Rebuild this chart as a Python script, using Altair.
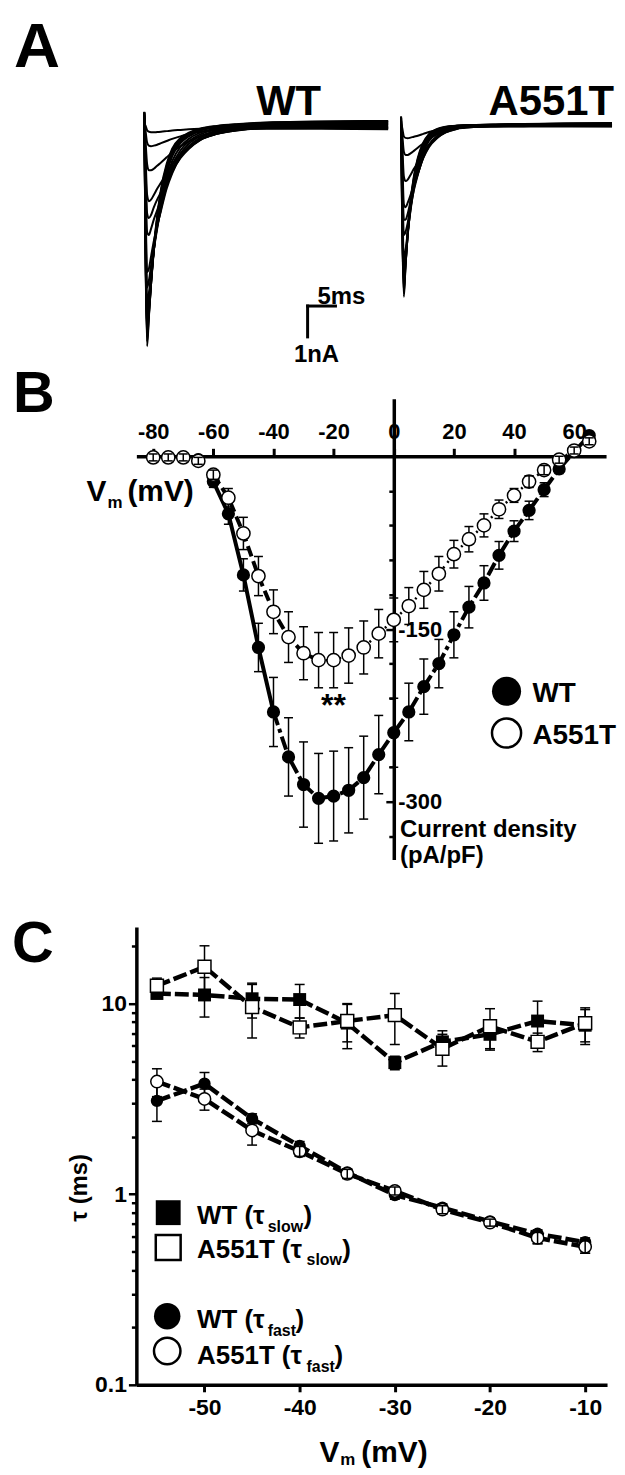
import altair as alt
import pandas as pd

FONT = "Liberation Sans"
BLACK = "#000000"

# ---------------- Panel A: current traces (time in ms, current in nA) ----------------
T_WT = [0, 0.2, 0.5, 0.8, 1.2, 1.7, 2.3, 3, 4, 5, 6.5, 8, 10, 13, 17, 22, 30, 43.75]
WT_TRACES = [
    [0.4, -4.0, -7.2, -6.3, -5.2, -4.0, -3.0, -2.1, -1.3, -0.8, -0.45, -0.28, -0.15, -0.06, 0.0, 0.05, 0.08, 0.1],
    [0.39, -3.9, -7.05, -6.25, -5.2, -4.05, -3.05, -2.17, -1.37, -0.86, -0.49, -0.31, -0.17, -0.07, -0.01, 0.04, 0.07, 0.09],
    [0.38, -3.8, -6.9, -6.2, -5.2, -4.1, -3.1, -2.25, -1.45, -0.92, -0.53, -0.34, -0.19, -0.08, -0.02, 0.03, 0.06, 0.08],
    [0.36, -3.65, -6.75, -6.1, -5.15, -4.1, -3.15, -2.32, -1.52, -0.98, -0.57, -0.37, -0.2, -0.09, -0.02, 0.02, 0.05, 0.06],
    [0.35, -3.5, -6.6, -6.0, -5.1, -4.1, -3.2, -2.4, -1.6, -1.05, -0.62, -0.4, -0.22, -0.1, -0.03, 0.02, 0.04, 0.05],
    [0.32, -3.1, -6.2, -5.75, -5.0, -4.1, -3.3, -2.55, -1.75, -1.2, -0.73, -0.48, -0.28, -0.14, -0.05, 0.0, 0.02, 0.02],
    [0.3, -2.8, -5.8, -5.5, -4.9, -4.1, -3.4, -2.7, -1.9, -1.35, -0.85, -0.56, -0.34, -0.18, -0.08, -0.02, 0.0, 0.0],
    [0.28, -2.5, -5.3, -5.1, -4.6, -4.0, -3.35, -2.75, -2.0, -1.48, -0.95, -0.64, -0.4, -0.22, -0.1, -0.04, -0.02, -0.02],
    [0.25, -2.2, -4.8, -4.7, -4.3, -3.8, -3.3, -2.8, -2.1, -1.6, -1.05, -0.72, -0.45, -0.26, -0.13, -0.06, -0.04, -0.05],
    [0.2, -1.5, -3.5, -3.6, -3.4, -3.1, -2.8, -2.45, -1.95, -1.55, -1.1, -0.8, -0.52, -0.32, -0.18, -0.1, -0.08, -0.08],
    [0.18, -1.2, -2.9, -3.05, -2.95, -2.7, -2.45, -2.2, -1.8, -1.45, -1.05, -0.78, -0.52, -0.32, -0.19, -0.12, -0.1, -0.1],
    [0.15, -0.9, -2.3, -2.5, -2.45, -2.3, -2.1, -1.9, -1.6, -1.3, -0.98, -0.74, -0.5, -0.32, -0.2, -0.13, -0.11, -0.12],
    [0.1, -0.5, -1.3, -1.5, -1.5, -1.45, -1.35, -1.25, -1.08, -0.92, -0.72, -0.56, -0.4, -0.27, -0.18, -0.14, -0.13, -0.15],
    [0.05, -0.2, -0.6, -0.7, -0.72, -0.7, -0.67, -0.62, -0.55, -0.48, -0.4, -0.32, -0.25, -0.19, -0.16, -0.15, -0.15, -0.17],
    [0.0, -0.05, -0.2, -0.25, -0.27, -0.27, -0.26, -0.25, -0.23, -0.21, -0.19, -0.17, -0.15, -0.13, -0.12, -0.12, -0.12, -0.13],
]
T_MUT = [0, 0.2, 0.5, 0.8, 1.2, 1.7, 2.3, 3, 4, 5, 6.5, 8, 10, 13, 17, 22, 30, 37.86]
MUT_TRACES = [
    [0.25, -3.2, -5.6, -4.6, -3.5, -2.5, -1.7, -1.1, -0.6, -0.33, -0.16, -0.09, -0.05, -0.03, -0.02, 0.0, 0.02, 0.03],
    [0.23, -3.1, -5.48, -4.58, -3.52, -2.55, -1.75, -1.15, -0.64, -0.35, -0.17, -0.095, -0.055, -0.032, -0.02, -0.003, 0.015, 0.025],
    [0.22, -3.0, -5.35, -4.55, -3.55, -2.6, -1.8, -1.2, -0.68, -0.38, -0.19, -0.1, -0.06, -0.035, -0.02, -0.005, 0.01, 0.02],
    [0.2, -2.7, -5.1, -4.5, -3.6, -2.7, -1.9, -1.3, -0.75, -0.43, -0.22, -0.12, -0.07, -0.04, -0.02, -0.01, 0.0, 0.01],
    [0.2, -2.4, -4.75, -4.3, -3.55, -2.75, -2.0, -1.4, -0.82, -0.49, -0.26, -0.14, -0.08, -0.045, -0.025, -0.015, -0.005, 0.005],
    [0.2, -2.1, -4.4, -4.1, -3.5, -2.8, -2.1, -1.5, -0.9, -0.55, -0.3, -0.17, -0.09, -0.05, -0.03, -0.02, -0.01, 0.0],
    [0.15, -1.5, -3.6, -3.5, -3.2, -2.7, -2.15, -1.65, -1.05, -0.68, -0.38, -0.22, -0.12, -0.07, -0.04, -0.03, -0.02, -0.02],
    [0.12, -1.25, -3.1, -3.1, -2.9, -2.5, -2.05, -1.62, -1.08, -0.72, -0.42, -0.25, -0.14, -0.08, -0.05, -0.035, -0.025, -0.03],
    [0.1, -1.0, -2.6, -2.7, -2.55, -2.3, -1.95, -1.6, -1.1, -0.75, -0.45, -0.27, -0.15, -0.09, -0.06, -0.04, -0.03, -0.04],
    [0.1, -0.6, -1.7, -1.85, -1.8, -1.65, -1.45, -1.25, -0.92, -0.67, -0.43, -0.27, -0.16, -0.1, -0.07, -0.05, -0.05, -0.05],
    [0.05, -0.3, -0.9, -1.0, -1.0, -0.95, -0.87, -0.77, -0.62, -0.48, -0.33, -0.22, -0.14, -0.1, -0.08, -0.07, -0.06, -0.07],
    [0.0, -0.12, -0.4, -0.45, -0.46, -0.44, -0.41, -0.38, -0.32, -0.26, -0.19, -0.14, -0.11, -0.09, -0.08, -0.08, -0.08, -0.08],
]
SCALE_BAR = {"t0": 29.3, "i0": -5.9, "dt": 5, "di": 1}

# ---------------- Panel B: I-V relationship ----------------
V_B = list(range(-80, 70, 5))
WT_B = [-1, -1, -1, -3, -22, -50, -103, -166, -222, -261, -285, -297, -295, -290, -279,
        -259, -240, -222, -200, -180, -155, -131, -110, -86, -65, -47, -29, -11, 4, 18]
WT_B_ERR = [2, 2, 2, 3, 5, 9, 14, 21, 30, 34, 37, 39, 39, 37, 36,
            34, 30, 25, 24, 21, 20, 18, 15, 12, 9, 8, 6, 4, 3, 3]
MUT_B = [-1, -1, -1, -4, -16, -36, -67, -104, -135, -157, -171, -177, -177, -173, -166,
         -154, -142, -130, -116, -102, -85, -72, -60, -46, -34, -22, -12, -3, 5, 13]
MUT_B_ERR = [3, 3, 3, 3, 4, 8, 14, 17, 19, 22, 23, 24, 24, 24, 23,
             21, 19, 16, 16, 15, 12, 11, 10, 8, 6, 5, 4, 3, 3, 3]

# ---------------- Panel C: inactivation time constants ----------------
V_C = [-55, -50, -45, -40, -35, -30, -25, -20, -15, -10]
WT_SLOW = [11.3, 11.1, 10.6, 10.5, 7.9, 4.9, 6.3, 6.9, 8.1, 7.7]
WT_SLOW_ERR = [0.5, 2.6, 2.2, 2.1, 2.1, 0.4, 0.9, 1.2, 2.2, 1.6]
MUT_SLOW = [12.4, 15.6, 9.6, 7.5, 8.1, 8.7, 5.8, 7.6, 6.3, 7.9]
MUT_SLOW_ERR = [1.2, 4.5, 3.0, 0.9, 1.8, 2.6, 1.1, 1.8, 0.7, 1.6]
WT_FAST = [3.09, 3.8, 2.49, 1.79, 1.30, 0.99, 0.85, 0.72, 0.62, 0.56]
WT_FAST_ERR = [0.68, 0.55, 0.15, 0.1, 0.06, 0.05, 0.04, 0.03, 0.03, 0.03]
MUT_FAST = [3.9, 3.16, 2.16, 1.68, 1.28, 1.04, 0.83, 0.71, 0.59, 0.53]
MUT_FAST_ERR = [0.65, 0.4, 0.35, 0.1, 0.07, 0.05, 0.04, 0.03, 0.04, 0.04]


# ---------------- helpers ----------------
def txt(s, x, y, size, align="left", baseline="alphabetic", angle=None):
    kw = dict(font=FONT, fontSize=size, fontWeight="bold", color=BLACK,
              align=align, baseline=baseline)
    if angle:
        kw["angle"] = angle
    return alt.Chart(pd.DataFrame({"s": [s]})).mark_text(**kw).encode(
        text="s:N", x=alt.value(x), y=alt.value(y))


def sym(x, y, shape, size, filled_black, sw=2.5):
    if filled_black:
        m = alt.Chart(pd.DataFrame({"k": [0]})).mark_point(
            shape=shape, size=size, filled=True, color=BLACK, opacity=1)
    else:
        m = alt.Chart(pd.DataFrame({"k": [0]})).mark_point(
            shape=shape, size=size, filled=True, fill="white", stroke=BLACK,
            strokeWidth=sw, opacity=1)
    return m.encode(x=alt.value(x), y=alt.value(y))


def traces_df(t, traces, name):
    rows = []
    for k, tr in enumerate(traces):
        for ti, ii in zip(t, tr):
            rows.append({"t": ti, "i": ii, "trace": f"{name}{k}"})
    return pd.DataFrame(rows)


def errbars(df, xf, yf, ef, xs, ys, xa, ya, cap, width, filt=None):
    base = alt.Chart(df).transform_calculate(
        lo=f"datum['{yf}'] - datum['{ef}']", hi=f"datum['{yf}'] + datum['{ef}']")
    if filt:
        base = base.transform_filter(filt)
    rule = base.mark_rule(color=BLACK, strokeWidth=width).encode(
        x=alt.X(f"{xf}:Q", scale=xs, axis=xa),
        y=alt.Y("lo:Q", scale=ys, axis=ya), y2="hi:Q")
    caps = base.transform_fold(["lo", "hi"], as_=["end", "yy"]).mark_tick(
        orient="horizontal", size=cap, thickness=width, color=BLACK, opacity=1).encode(
        x=alt.X(f"{xf}:Q", scale=xs, axis=xa),
        y=alt.Y("yy:Q", scale=ys, axis=ya))
    return rule + caps


def points(df, xf, yf, xs, ys, xa, ya, shape, size, black, sw=1.5):
    if black:
        m = alt.Chart(df).mark_point(shape=shape, size=size, filled=True,
                                     color=BLACK, opacity=1)
    else:
        m = alt.Chart(df).mark_point(shape=shape, size=size, filled=True,
                                     fill="white", stroke=BLACK, strokeWidth=sw, opacity=1)
    return m.encode(x=alt.X(f"{xf}:Q", scale=xs, axis=xa),
                    y=alt.Y(f"{yf}:Q", scale=ys, axis=ya))


def line(df, xf, yf, xs, ys, xa, ya, width, dash=None, filt=None):
    kw = dict(color=BLACK, strokeWidth=width)
    if dash:
        kw["strokeDash"] = dash
    base = alt.Chart(df)
    if filt:
        base = base.transform_filter(filt)
    return base.mark_line(**kw).encode(
        x=alt.X(f"{xf}:Q", scale=xs, axis=xa),
        y=alt.Y(f"{yf}:Q", scale=ys, axis=ya))


# ---------------- Panel A ----------------
WA, HA = 472, 342
yA = alt.Scale(domain=[-7.387, 3.645], nice=False, zero=False)
xWT = alt.Scale(domain=[0, 43.75], range=[8, 253], nice=False, zero=False)
xMUT = alt.Scale(domain=[0, 37.86], range=[266, 478], nice=False, zero=False)

df_wt = traces_df(T_WT, WT_TRACES, "wt")
df_mut = traces_df(T_MUT, MUT_TRACES, "mut")
df_sb = pd.DataFrame([SCALE_BAR])

wt_lines = alt.Chart(df_wt).mark_line(color=BLACK, strokeWidth=2, interpolate="monotone").encode(
    x=alt.X("t:Q", scale=xWT, axis=None), y=alt.Y("i:Q", scale=yA, axis=None), detail="trace:N")
sb_base = alt.Chart(df_sb).transform_calculate(
    t1="datum.t0 + datum.dt", i1="datum.i0 - datum.di")
sb_h = sb_base.mark_rule(color=BLACK, strokeWidth=3, strokeCap="square").encode(
    x=alt.X("t0:Q", scale=xWT, axis=None), x2="t1:Q", y=alt.Y("i0:Q", scale=yA, axis=None))
sb_v = sb_base.mark_rule(color=BLACK, strokeWidth=3, strokeCap="square").encode(
    x=alt.X("t0:Q", scale=xWT, axis=None), y=alt.Y("i0:Q", scale=yA, axis=None), y2="i1:Q")
wt_layer = alt.layer(wt_lines, sb_h, sb_v)

mut_lines = alt.Chart(df_mut).mark_line(color=BLACK, strokeWidth=2, interpolate="monotone").encode(
    x=alt.X("t:Q", scale=xMUT, axis=None), y=alt.Y("i:Q", scale=yA, axis=None), detail="trace:N")

panelA = alt.layer(
    wt_layer, mut_lines,
    txt("A", -123, 56, 64),
    txt("WT", 153, 104, 42, align="center"),
    txt("A551T", 417, 104, 42, align="center"),
    txt("5ms", 182, 294, 24),
    txt("1nA", 181, 352, 24, align="center"),
).resolve_scale(x="independent").properties(width=WA, height=HA)

# ---------------- Panel B ----------------
WB, HB_PLOT, HB = 472, 463, 484
xB = alt.Scale(domain=[-85.6, 70.6], nice=False, zero=False)
yB = alt.Scale(domain=[-350, 50], range=[HB_PLOT, 0], nice=False, zero=False)
df_b = pd.DataFrame({"v": V_B, "wt": WT_B, "wte": WT_B_ERR, "mut": MUT_B, "mute": MUT_B_ERR})

xaB = alt.Axis(orient="top", offset=-57.875, values=[-80, -60, -40, -20, 0, 20, 40, 60],
               tickSize=8, tickWidth=3, domainWidth=3.5, labelFontSize=22,
               labelPadding=5, labelExpr="datum.value + ''", title=None,
               labelOverlap=False, labelFlush=False)
yaB = alt.Axis(orient="left", offset=-258.7,
               values=[-330, -300, -270, -240, -210, -180, -150, -120, -90, -60, -30],
               tickSize={"condition": {"test": "datum.value == -150 || datum.value == -300",
                                       "value": 8}, "value": 5},
               tickWidth=2.5, domainWidth=3.5, labelFontSize=22,
               labelExpr="(datum.value == -150 || datum.value == -300) ? datum.value + '' : ''",
               labelAlign="left", labelPadding=-12, labelBaseline="middle",
               title=None, labelOverlap=False, labelFlush=False)

panelB = alt.layer(
    line(df_b, "v", "wt", xB, yB, xaB, yaB, 4, None, "datum.v <= -40 && datum.v >= -60"),
    line(df_b, "v", "wt", xB, yB, xaB, yaB, 4, [14, 4, 4, 4], "datum.v >= -40"),
    line(df_b, "v", "mut", xB, yB, xaB, yaB, 4, [11, 5], "datum.v <= -25 && datum.v >= -60"),
    line(df_b, "v", "mut", xB, yB, xaB, yaB, 2.5, [2, 5], "datum.v >= -25"),
    errbars(df_b, "v", "wt", "wte", xB, yB, xaB, yaB, 9, 1.5),
    errbars(df_b, "v", "mut", "mute", xB, yB, xaB, yaB, 9, 1.5),
    points(df_b, "v", "wt", xB, yB, xaB, yaB, "circle", 177, True),
    points(df_b, "v", "mut", xB, yB, xaB, yaB, "circle", 177, False),
    errbars(df_b, "v", "mut", "mute", xB, yB, xaB, yaB, 9, 1.5, "datum.mute <= 5"),
    txt("B", -124, 13, 58),
    txt("V", -50, 103, 30),
    txt("m", -29, 110, 17),
    txt("(mV)", -9, 103, 30),
    txt("**", 198, 319, 32, align="center"),
    sym(372, 294, "circle", 855, True),
    sym(372, 336, "circle", 855, False),
    txt("WT", 398, 305, 28),
    txt("A551T", 398, 347, 28),
    txt("Current density", 265, 440, 24),
    txt("(pA/pF)", 265, 467, 24),
).properties(width=WB, height=HB)

# ---------------- Panel C ----------------
WC, HC = 473, 460
xC = alt.Scale(domain=[-57.16, -7.70], nice=False, zero=False)
yC = alt.Scale(type="log", domain=[0.1, 25.2], nice=False)
df_c = pd.DataFrame({"v": V_C, "ws": WT_SLOW, "wse": WT_SLOW_ERR, "ms": MUT_SLOW, "mse": MUT_SLOW_ERR,
                     "wf": WT_FAST, "wfe": WT_FAST_ERR, "mf": MUT_FAST, "mfe": MUT_FAST_ERR})

Y_TICKS_C = [0.1, 0.2, 0.3, 0.4, 0.5, 0.6, 0.7, 0.8, 0.9, 1, 2, 3, 4, 5, 6, 7, 8, 9, 10, 20]
xaC = alt.Axis(orient="bottom", values=[-50, -40, -30, -20, -10], tickSize=7, tickWidth=3,
               domainWidth=3.5, labelFontSize=23, labelPadding=5,
               labelExpr="datum.value + ''", title=None, labelOverlap=False, labelFlush=False)
yaC = alt.Axis(orient="left", values=Y_TICKS_C,
               tickSize={"condition": {"test": "datum.value == 0.1 || datum.value == 1 || datum.value == 10",
                                       "value": 8}, "value": 5},
               tickWidth=2.5, domainWidth=3.5, labelFontSize=23, labelPadding=2,
               labelExpr="(datum.value == 0.1 || datum.value == 1 || datum.value == 10) ? datum.value + '' : ''",
               labelBaseline="middle", title=None, labelOverlap=False, labelFlush=False)

DASH_C = [14, 4]
panelC = alt.layer(
    line(df_c, "v", "ws", xC, yC, xaC, yaC, 4.5, DASH_C),
    line(df_c, "v", "ms", xC, yC, xaC, yaC, 4.5, DASH_C),
    line(df_c, "v", "wf", xC, yC, xaC, yaC, 4.5, DASH_C),
    line(df_c, "v", "mf", xC, yC, xaC, yaC, 4.5, DASH_C),
    errbars(df_c, "v", "ws", "wse", xC, yC, xaC, yaC, 10, 1.5),
    errbars(df_c, "v", "ms", "mse", xC, yC, xaC, yaC, 10, 1.5),
    errbars(df_c, "v", "wf", "wfe", xC, yC, xaC, yaC, 10, 1.5),
    errbars(df_c, "v", "mf", "mfe", xC, yC, xaC, yaC, 10, 1.5),
    points(df_c, "v", "ws", xC, yC, xaC, yaC, "square", 169, True),
    points(df_c, "v", "ms", xC, yC, xaC, yaC, "square", 169, False),
    points(df_c, "v", "wf", xC, yC, xaC, yaC, "circle", 154, True),
    points(df_c, "v", "mf", xC, yC, xaC, yaC, "circle", 154, False),
    errbars(df_c, "v", "ms", "mse", xC, yC, xaC, yaC, 10, 1.5, "datum.mse / datum.ms < 0.09"),
    errbars(df_c, "v", "mf", "mfe", xC, yC, xaC, yaC, 10, 1.5, "datum.mfe / datum.mf < 0.09"),
    txt("C", -125, 35, 58),
    txt("τ (ms)", -57, 262, 24, align="center", baseline="middle", angle=270),
    txt("V", 184, 538, 30),
    txt("m", 205, 541, 17),
    txt("(mV)", 226, 538, 30),
    sym(32, 287, "square", 625, True),
    sym(32, 322, "square", 625, False),
    sym(31, 391, "circle", 707, True),
    sym(31, 426, "circle", 707, False),
    txt("WT (τ", 61, 298, 26), txt("slow", 132, 306, 16), txt(")", 168, 298, 26),
    txt("A551T (τ", 61, 333, 26), txt("slow", 171, 340, 16), txt(")", 207, 333, 26),
    txt("WT (τ", 61, 403, 26), txt("fast", 132, 411, 16), txt(")", 160, 403, 26),
    txt("A551T (τ", 61, 439, 26), txt("fast", 171, 447, 16), txt(")", 199, 439, 26),
).properties(width=WC, height=HC)

chart = alt.vconcat(panelA, panelB, panelC, spacing=47, bounds="flush").properties(
    padding={"left": 4, "top": 0, "right": 0, "bottom": 0}, background="white"
).configure_view(stroke=None, strokeWidth=0).configure_axis(
    domainColor=BLACK, tickColor=BLACK, labelColor=BLACK, labelFont=FONT,
    labelFontWeight="bold", grid=False
)

chart.save("out.html", embed_options={"renderer": "svg", "actions": False})
